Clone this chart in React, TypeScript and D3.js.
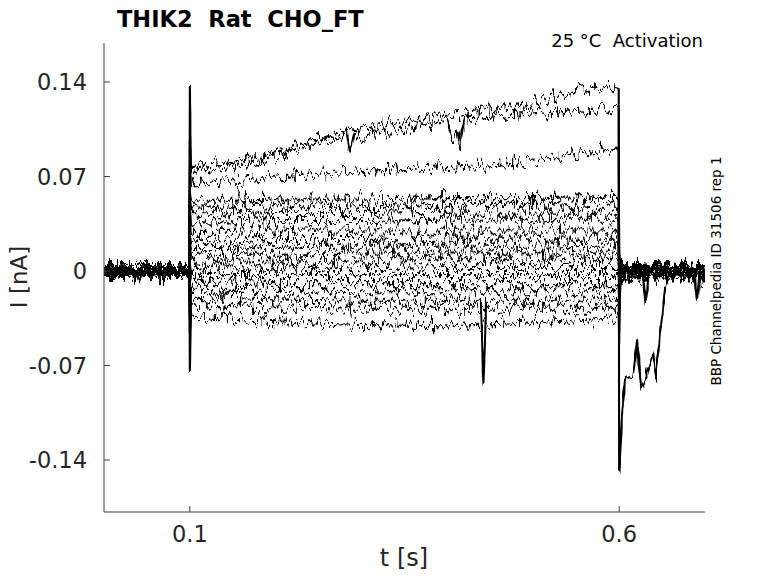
import React from 'react';
import * as d3 from 'd3';

const W = 778;
const H = 583;

const xTicks = [0.1, 0.6];
const xTickLabels = ['0.1', '0.6'];
const yTicks = [-0.14, -0.07, 0, 0.07, 0.14];
const yTickLabels = ['-0.14', '-0.07', '0', '0.07', '0.14'];

// time points of the voltage step (s)
const stepTimes = [0.1, 0.15, 0.2, 0.3, 0.4, 0.5, 0.6];
// current levels (nA) of each sweep at stepTimes
const stepLevels: number[][] = [
  [0.077, 0.080, 0.088, 0.106, 0.116, 0.125, 0.134],
  [0.074, 0.078, 0.085, 0.100, 0.112, 0.116, 0.121],
  [0.064, 0.067, 0.070, 0.074, 0.077, 0.081, 0.091],
  [0.052, 0.052, 0.053, 0.053, 0.054, 0.054, 0.055],
  [0.047, 0.047, 0.048, 0.048, 0.049, 0.049, 0.050],
  [0.042, 0.042, 0.043, 0.043, 0.044, 0.044, 0.044],
  [0.036, 0.036, 0.037, 0.037, 0.038, 0.038, 0.038],
  [0.029, 0.029, 0.030, 0.030, 0.030, 0.030, 0.030],
  [0.022, 0.022, 0.023, 0.023, 0.024, 0.024, 0.024],
  [0.017, 0.017, 0.018, 0.018, 0.018, 0.018, 0.019],
  [0.012, 0.012, 0.012, 0.013, 0.013, 0.013, 0.013],
  [0.007, 0.007, 0.007, 0.008, 0.008, 0.008, 0.008],
  [0.002, 0.002, 0.002, 0.002, 0.003, 0.003, 0.003],
  [-0.003, -0.003, -0.003, -0.003, -0.003, -0.003, -0.003],
  [-0.008, -0.008, -0.009, -0.009, -0.009, -0.009, -0.009],
  [-0.013, -0.014, -0.014, -0.015, -0.015, -0.015, -0.015],
  [-0.019, -0.020, -0.021, -0.022, -0.022, -0.022, -0.022],
  [-0.024, -0.026, -0.027, -0.028, -0.028, -0.028, -0.028],
  [-0.033, -0.036, -0.038, -0.040, -0.041, -0.038, -0.035],
];
const preLevels = [0.003, -0.002, 0.001, 0.0, -0.003, 0.002, 0.0, -0.001, 0.003, -0.002, 0.002, -0.003, 0.0, 0.001, -0.001, 0.003, 0.002, -0.002, 0.0];
const postLevels = [-0.004, 0.003, 0.001, 0.0, 0.002, -0.002, 0.001, 0.0, -0.003, 0.002, 0.0, -0.004, 0.003, -0.001, 0.0, 0.001, -0.005, 0.0, -0.002];
const onsetPeaks = [0.138, 0.095, 0.08, 0.06, 0.055, 0.05, 0.045, 0.04, 0.03, 0.025, 0.02, 0.015, 0.01, -0.01, -0.02, -0.03, -0.04, -0.05, -0.075];
const offsetPeaks = [-0.15, 0.0, 0.01, 0.01, 0.0, 0.0, 0.0, 0.0, 0.0, -0.005, 0.0, -0.01, 0.0, -0.01, -0.02, -0.02, -0.03, -0.04, -0.05];

// extra features (sweep index, time, value)
const eventTrace = [
  0, 0, 0, 0, 0, 0, 0, 0, 0, 0, 0, 0, 0, 0, 0,
  1, 1, 1, 1, 1, 1, 1, 1,
  16, 16, 16,
  5, 5, 5,
  16, 16, 16,
  11, 11, 11,
];
const eventTime = [
  0.585, 0.595, 0.6035, 0.607, 0.6163, 0.621, 0.6256, 0.6326, 0.6385, 0.6431, 0.6478, 0.6513, 0.6536, 0.657, 0.662,
  0.282, 0.287, 0.292, 0.400, 0.405, 0.410, 0.415, 0.420,
  0.439, 0.442, 0.445,
  0.036, 0.041, 0.046,
  0.628, 0.631, 0.634,
  0.688, 0.691, 0.694,
];
const eventValue = [
  0.138, 0.135, -0.105, -0.081, -0.078, -0.053, -0.086, -0.076, -0.060, -0.075, -0.046, -0.024, -0.012, -0.005, -0.004,
  0.103, 0.088, 0.104, 0.112, 0.098, 0.104, 0.094, 0.112,
  -0.022, -0.088, -0.022,
  0.002, -0.010, 0.002,
  -0.005, -0.024, -0.005,
  -0.004, -0.025, -0.004,
];

const noiseSeeds = [3, 11, 23];

const margin = { left: 104, right: 705, top: 43, bottom: 512 };

export default function App() {
  const x = d3.scaleLinear().domain([0, 0.7]).range([margin.left, margin.right]);
  const y = d3.scaleLinear().domain([-0.1785, 0.1689]).range([margin.bottom, margin.top]);
  const line = d3.line<[number, number]>().x((d) => x(d[0])).y((d) => y(d[1]));

  const traces = stepLevels.map((lv, i) => {
    const pts: [number, number][] = [];
    pts.push([0, preLevels[i]]);
    pts.push([0.0995, preLevels[i]]);
    pts.push([0.1, onsetPeaks[i]]);
    pts.push([0.1012, lv[0]]);
    for (let k = 1; k < stepTimes.length; k++) {
      pts.push([k === stepTimes.length - 1 ? 0.5995 : stepTimes[k], lv[k]]);
    }
    pts.push([0.6, offsetPeaks[i]]);
    if (i !== 0) pts.push([0.6015, postLevels[i]]);
    pts.push([0.7, postLevels[i]]);
    eventTrace.forEach((tr, j) => {
      if (tr === i) pts.push([eventTime[j], eventValue[j]]);
    });
    pts.sort((a, b) => a[0] - b[0]);
    return pts;
  });

  const font = 'DejaVu Sans, sans-serif';
  const axisColor = '#404040';
  const textColor = '#262626';

  return (
    <svg width={W} height={H} style={{ position: 'absolute', left: 0, top: 0, background: '#fff' }}>
      <defs>
        {noiseSeeds.map((s, k) => (
          <filter key={k} id={'noise' + k} filterUnits="userSpaceOnUse" x={0} y={0} width={W} height={H}>
            <feTurbulence type="fractalNoise" baseFrequency="0.24 0.04" numOctaves={3} seed={s} result="turb" />
            <feColorMatrix in="turb" type="matrix" values="0 0 0 0 0.5  0 1 0 0 0  0 0 1 0 0  0 0 0 0 1" result="map" />
            <feDisplacementMap in="SourceGraphic" in2="map" scale={27} xChannelSelector="R" yChannelSelector="G" />
          </filter>
        ))}
      </defs>
      <rect x={0} y={0} width={W} height={H} fill="#fff" />
      {noiseSeeds.map((s, k) => (
        <g key={k} filter={`url(#noise${k})`}>
          {traces.map((pts, i) =>
            i % noiseSeeds.length === k ? (
              <path key={i} d={line(pts) || ''} fill="none" stroke="#000" strokeWidth={2.1} />
            ) : null
          )}
        </g>
      ))}
      {/* axes */}
      <line x1={margin.left} x2={margin.left} y1={margin.top} y2={margin.bottom} stroke={axisColor} strokeWidth={1} />
      <line x1={margin.left} x2={margin.right} y1={margin.bottom} y2={margin.bottom} stroke={axisColor} strokeWidth={1} />
      {yTicks.map((t, i) => (
        <g key={'y' + i}>
          <line x1={margin.left} x2={margin.left + 6} y1={y(t)} y2={y(t)} stroke={axisColor} />
          <text x={margin.left - 17} y={y(t)} dy="0.36em" textAnchor="end" fontFamily={font} fontSize={22.5} fill={textColor}>
            {yTickLabels[i]}
          </text>
        </g>
      ))}
      {xTicks.map((t, i) => (
        <g key={'x' + i}>
          <line x1={x(t)} x2={x(t)} y1={margin.bottom} y2={margin.bottom - 6} stroke={axisColor} />
          <text x={x(t)} y={542} textAnchor="middle" fontFamily={font} fontSize={22.5} fill={textColor}>
            {xTickLabels[i]}
          </text>
        </g>
      ))}
      <text x={404} y={566} textAnchor="middle" fontFamily={font} fontSize={24} fill={textColor}>t [s]</text>
      <text transform={`translate(27,${277}) rotate(-90)`} textAnchor="middle" fontFamily={font} fontSize={23} fill={textColor}>I [nA]</text>
      <text x={117} y={27} fontFamily={font} fontSize={22.5} fontWeight="bold" fill="#000" style={{ whiteSpace: 'pre' }}>THIK2  Rat  CHO_FT</text>
      <text x={703} y={47} textAnchor="end" fontFamily={font} fontSize={18} fill="#000" style={{ whiteSpace: 'pre' }}>25 °C  Activation</text>
      <text transform={`translate(721,${271}) rotate(-90)`} textAnchor="middle" fontFamily={font} fontSize={13.5} fill="#000">BBP Channelpedia ID 31506 rep 1</text>
    </svg>
  );
}
